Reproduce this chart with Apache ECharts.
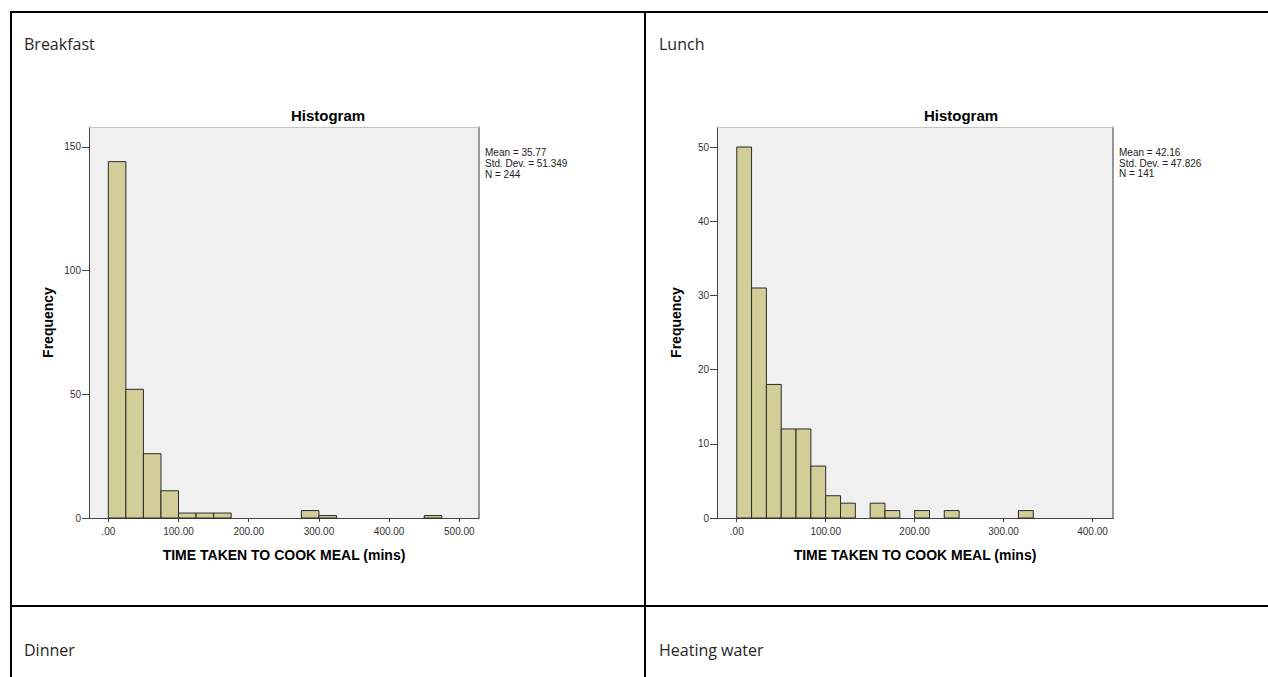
<!DOCTYPE html>
<html>
<head>
<meta charset="utf-8">
<script src="https://cdn.jsdelivr.net/npm/echarts@6.0.0/dist/echarts.min.js"></script>
<style>
  html, body { margin: 0; padding: 0; background: #ffffff; }
  #chart { width: 1268px; height: 677px; }
</style>
</head>
<body>
<div id="chart"></div>
<script>
// ---------------- data ----------------
const cellLabels = ['Breakfast', 'Lunch', 'Dinner', 'Heating water'];
const chartTitle = 'Histogram';
const xAxisName = 'TIME TAKEN TO COOK MEAL (mins)';
const yAxisName = 'Frequency';

// Breakfast: bins of 25 mins starting at 0
const breakfastBinWidth = 25;
const breakfastCounts = [144, 52, 26, 11, 2, 2, 2, 0, 0, 0, 0, 3, 1, 0, 0, 0, 0, 0, 1, 0];
const breakfastXTicks = [0, 100, 200, 300, 400, 500];
const breakfastYTicks = [0, 50, 100, 150];
const breakfastStats = ['Mean = 35.77', 'Std. Dev. = 51.349', 'N = 244'];

// Lunch: bins of 16.67 mins starting at 0
const lunchBinWidth = 100 / 6;
const lunchCounts = [50, 31, 18, 12, 12, 7, 3, 2, 0, 2, 1, 0, 1, 0, 1, 0, 0, 0, 0, 1];
const lunchXTicks = [0, 100, 200, 300, 400];
const lunchYTicks = [0, 10, 20, 30, 40, 50];
const lunchStats = ['Mean = 42.16', 'Std. Dev. = 47.826', 'N = 141'];

// ---------------- helpers ----------------
function toBins(counts, width) {
  const out = [];
  counts.forEach((c, i) => {
    if (c > 0) out.push([i * width, (i + 1) * width, c]);
  });
  return out;
}
const tickFmt = v => (v === 0 ? '.00' : v.toFixed(2));
const AR = '"Liberation Sans", Arial, sans-serif';

function mainX(gi, min, max, ticks) {
  return {
    type: 'value', gridIndex: gi, min: min, max: max, position: 'bottom',
    axisLine: { show: true, onZero: false, lineStyle: { color: '#444', width: 1 } },
    axisTick: { show: true, length: 4, customValues: ticks, lineStyle: { color: '#444' } },
    axisLabel: { customValues: ticks, formatter: tickFmt, margin: 8, fontSize: 10, color: '#333', fontFamily: AR },
    splitLine: { show: false },
    name: xAxisName, nameLocation: 'middle', nameGap: 30,
    nameTextStyle: { fontFamily: AR, fontWeight: 'bold', fontSize: 14, color: '#000' }
  };
}
function frameX(gi, min, max) {
  return {
    type: 'value', gridIndex: gi, min: min, max: max, position: 'top',
    axisLine: { show: true, onZero: false, lineStyle: { color: '#c4c4c4', width: 1 } },
    axisTick: { show: false }, axisLabel: { show: false }, splitLine: { show: false }
  };
}
function mainY(gi, min, max, ticks) {
  return {
    type: 'value', gridIndex: gi, min: min, max: max, position: 'left',
    axisLine: { show: true, onZero: false, lineStyle: { color: '#444', width: 1 } },
    axisTick: { show: true, length: 7, customValues: ticks, lineStyle: { color: '#444' } },
    axisLabel: { customValues: ticks, margin: 8, fontSize: 10, color: '#333', fontFamily: AR },
    splitLine: { show: false },
    name: yAxisName, nameLocation: 'middle', nameGap: 34,
    nameTextStyle: { fontFamily: AR, fontWeight: 'bold', fontSize: 14, color: '#000' }
  };
}
function frameY(gi, min, max) {
  return {
    type: 'value', gridIndex: gi, min: min, max: max, position: 'right',
    axisLine: { show: true, onZero: false, lineStyle: { color: '#777', width: 1.5 } },
    axisTick: { show: false }, axisLabel: { show: false }, splitLine: { show: false }
  };
}
function histSeries(gi, data) {
  return {
    type: 'custom', xAxisIndex: gi * 2, yAxisIndex: gi * 2,
    encode: { x: [0, 1], y: 2 },
    data: data,
    renderItem: function (params, api) {
      const p0 = api.coord([api.value(0), 0]);
      const p1 = api.coord([api.value(1), api.value(2)]);
      return {
        type: 'rect',
        shape: { x: p0[0], y: p1[1], width: p1[0] - p0[0], height: p0[1] - p1[1] },
        style: { fill: '#D3CE97', stroke: '#2a2a2a', lineWidth: 1 }
      };
    }
  };
}
function txt(x, y, text, font, extra) {
  return {
    type: 'text', x: x, y: y, silent: true,
    style: Object.assign({ text: text, font: font, fill: '#000', align: 'left', verticalAlign: 'middle' }, extra || {})
  };
}
function line(x1, y1, x2, y2) {
  return { type: 'line', silent: true, shape: { x1: x1, y1: y1, x2: x2, y2: y2 }, style: { stroke: '#000', lineWidth: 2 } };
}

const chart = echarts.init(document.getElementById('chart'), null, { renderer: 'svg' });
const cellFont = '16px "Open Sans", "Noto Sans", sans-serif';
const statFont = '10px ' + AR;

chart.setOption({
  animation: false,
  backgroundColor: '#ffffff',
  grid: [
    { left: 89, top: 127, width: 390, height: 391, show: true, backgroundColor: '#F0F0F0', borderWidth: 0 },
    { left: 717, top: 127, width: 396, height: 391, show: true, backgroundColor: '#F0F0F0', borderWidth: 0 }
  ],
  xAxis: [
    mainX(0, -27.5, 528, breakfastXTicks), frameX(0, -27.5, 528),
    mainX(1, -22.2, 423, lunchXTicks), frameX(1, -22.2, 423)
  ],
  yAxis: [
    mainY(0, 0, 158, breakfastYTicks), frameY(0, 0, 158),
    mainY(1, 0, 52.7, lunchYTicks), frameY(1, 0, 52.7)
  ],
  series: [
    histSeries(0, toBins(breakfastCounts, breakfastBinWidth)),
    histSeries(1, toBins(lunchCounts, lunchBinWidth))
  ],
  graphic: [
    line(10, 12, 1268, 12),
    line(10, 606, 1268, 606),
    line(11, 11, 11, 677),
    line(645, 11, 645, 677),
    txt(24, 44, cellLabels[0], cellFont, { fill: '#262626' }),
    txt(659, 44, cellLabels[1], cellFont, { fill: '#262626' }),
    txt(24, 650, cellLabels[2], cellFont, { fill: '#262626' }),
    txt(659, 650, cellLabels[3], cellFont, { fill: '#262626' }),
    txt(328, 115, chartTitle, 'bold 15px ' + AR, { align: 'center' }),
    txt(961, 115, chartTitle, 'bold 15px ' + AR, { align: 'center' }),
    txt(485, 147.3, breakfastStats.join('\n'), statFont, { verticalAlign: 'top', lineHeight: 10.7, fill: '#222' }),
    txt(1119, 147, lunchStats.join('\n'), statFont, { verticalAlign: 'top', lineHeight: 10.7, fill: '#222' })
  ]
});
</script>
</body>
</html>
